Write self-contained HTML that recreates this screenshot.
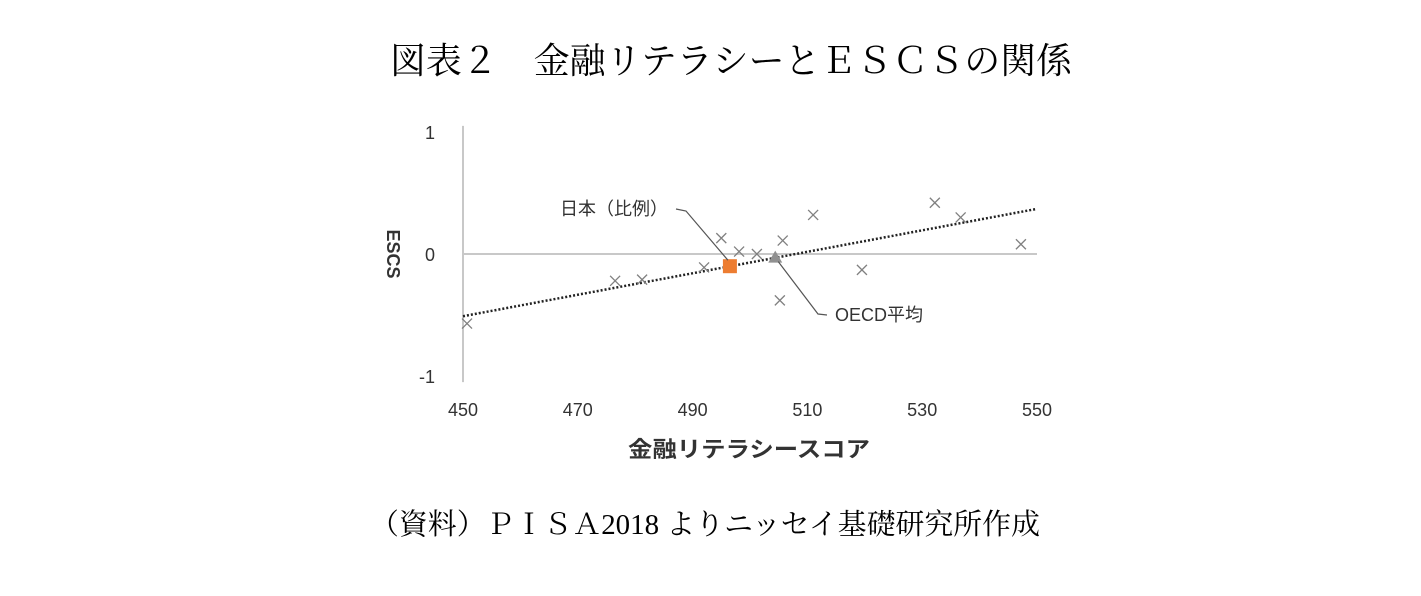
<!DOCTYPE html>
<html><head><meta charset="utf-8">
<style>
body{margin:0;background:#fff;width:1421px;height:596px;overflow:hidden}
svg{display:block}
</style></head>
<body>
<svg width="1421" height="596">
<text x="731" y="73" text-anchor="middle" font-family="'Liberation Serif','Noto Serif CJK SC',serif" font-size="36" textLength="682" lengthAdjust="spacingAndGlyphs" fill="#000">図表２　金融リテラシーとＥＳＣＳの関係</text>
<text x="705" y="534" text-anchor="middle" font-family="'Liberation Serif','Noto Serif CJK SC',serif" font-size="29" textLength="670" lengthAdjust="spacingAndGlyphs" fill="#000">（資料）ＰＩＳＡ2018 よりニッセイ基礎研究所作成</text>
<g id="plot"></g>
</svg>
<script>
const xTicks=[450,470,490,510,530,550];
const yTicks=[1,0,-1];
const countryX=[450.7,476.5,481.2,492,495,498.1,501.2,505.7,505.2,511,519.5,532.2,536.7,547.2];
const countryY=[-0.57,-0.22,-0.21,-0.11,0.13,0.02,0,0.11,-0.38,0.32,-0.13,0.42,0.30,0.08];
const japan=[496.5,-0.10];
const oecd=[504.4,-0.03];
const trend=[[450,-0.51],[550,0.37]];
const sx=v=>463+(v-450)*5.74;
const sy=v=>254-v*122;
const NS="http://www.w3.org/2000/svg";
const g=document.getElementById('plot');
function mk(t,a){const e=document.createElementNS(NS,t);for(const k in a)e.setAttribute(k,a[k]);g.appendChild(e);return e;}
const F="'Liberation Sans','Noto Sans CJK JP',sans-serif";
let e;
e=mk('line',{x1:sx(450),y1:sy(1.05),x2:sx(450),y2:sy(-1.05),stroke:'#c8c8c8','stroke-width':2});

e=mk('line',{x1:sx(450),y1:sy(0),x2:sx(550),y2:sy(0),stroke:'#c8c8c8','stroke-width':2});

xTicks.forEach(t=>{e=mk('text',{x:sx(t),y:416,'text-anchor':'middle','font-family':F,'font-size':18,fill:'#333'});e.textContent=t;
});
yTicks.forEach(t=>{e=mk('text',{x:435,y:sy(t)+7,'text-anchor':'end','font-family':F,'font-size':18,fill:'#333'});e.textContent=t;
});
e=mk('text',{x:749,y:457,'text-anchor':'middle','font-family':F,'font-size':22,'font-weight':'bold',fill:'#333',textLength:242,lengthAdjust:'spacingAndGlyphs'});e.textContent='金融リテラシースコア';

e=mk('text',{x:0,y:0,'text-anchor':'middle','font-family':F,'font-size':18,'font-weight':'bold',fill:'#333',transform:'translate(387,254) rotate(90)'});e.textContent='ESCS';

e=mk('line',{x1:sx(trend[0][0]),y1:sy(trend[0][1]),x2:sx(trend[1][0]),y2:sy(trend[1][1]),stroke:'#222','stroke-width':2.5,'stroke-dasharray':'2 2'});

countryX.forEach((v,i)=>{const x=sx(v),y=sy(countryY[i]);
e=mk('path',{d:`M${x-5},${y-5}L${x+5},${y+5}M${x+5},${y-5}L${x-5},${y+5}`,stroke:'#808080','stroke-width':1.3,fill:'none'});
});
const jx=sx(japan[0]),jy=sy(japan[1]);
e=mk('rect',{x:jx-7,y:jy-7,width:14,height:14,fill:'#ed7d31'});

const ox=sx(oecd[0]),oy=sy(oecd[1]);
e=mk('path',{d:`M${ox},${oy-7}L${ox+7},${oy+5}L${ox-7},${oy+5}Z`,fill:'#909090'});

e=mk('path',{d:`M676,209L686,211L${jx-2},${jy-6}`,stroke:'#555','stroke-width':1.2,fill:'none'});

e=mk('text',{x:668,y:215,'text-anchor':'end','font-family':F,'font-size':18,fill:'#333'});e.textContent='日本（比例）';

e=mk('path',{d:`M${ox+3},${oy+4}L818,314L827,315`,stroke:'#555','stroke-width':1.2,fill:'none'});

e=mk('text',{x:835,y:321,'font-family':F,'font-size':18,fill:'#333'});e.textContent='OECD平均';

</script>
</body></html>
